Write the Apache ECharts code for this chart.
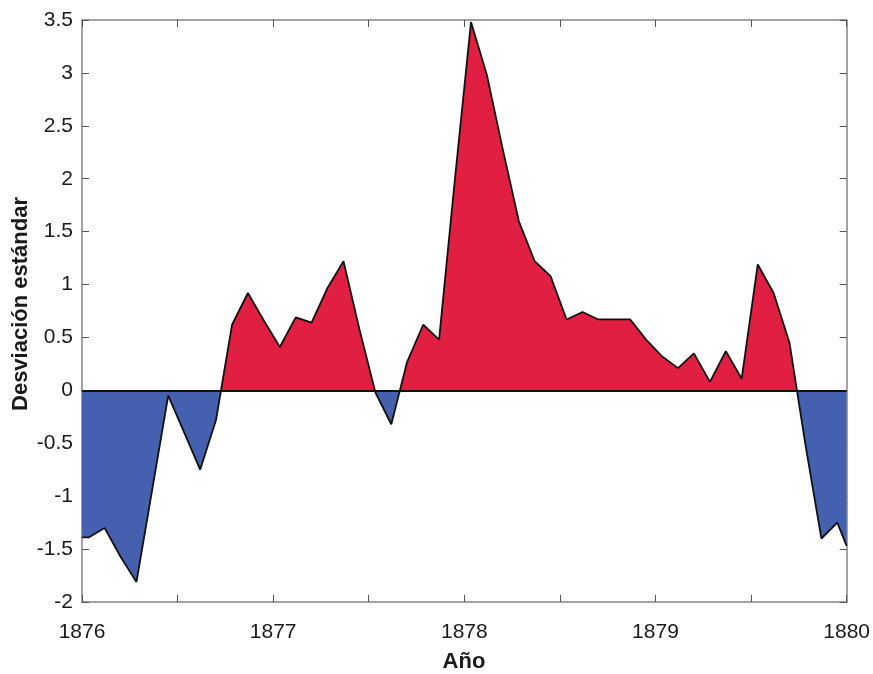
<!DOCTYPE html>
<html>
<head>
<meta charset="utf-8">
<script src="https://cdn.jsdelivr.net/npm/echarts@6/dist/echarts.min.js"></script>
<style>
  html, body { margin: 0; padding: 0; background: #ffffff; }
  #chart { width: 873px; height: 674px; }
</style>
</head>
<body>
<div id="chart"></div>
<script>
// Decimal years of each sample
const years = [
  1876.000,
  1876.035, 1876.118, 1876.201, 1876.285, 1876.368, 1876.451, 1876.535, 1876.618, 1876.701, 1876.785, 1876.868, 1876.951,
  1877.035, 1877.118, 1877.201, 1877.285, 1877.368, 1877.451, 1877.535, 1877.618, 1877.701, 1877.785, 1877.868, 1877.951,
  1878.035, 1878.118, 1878.201, 1878.285, 1878.368, 1878.451, 1878.535, 1878.618, 1878.701, 1878.785, 1878.868, 1878.951,
  1879.035, 1879.118, 1879.201, 1879.285, 1879.368, 1879.451, 1879.535, 1879.618, 1879.701, 1879.785, 1879.868, 1879.951,
  1880.000
];
// Standard deviation values
const desviacion = [
  -1.39,
  -1.39, -1.30, -1.57, -1.81, -0.93, -0.05, -0.40, -0.75, -0.28, 0.62, 0.92, 0.66,
  0.41, 0.69, 0.64, 0.97, 1.22, 0.58, -0.02, -0.32, 0.27, 0.62, 0.48, 2.00,
  3.48, 2.98, 2.28, 1.60, 1.22, 1.08, 0.67, 0.74, 0.67, 0.67, 0.67, 0.48,
  0.32, 0.21, 0.35, 0.08, 0.37, 0.11, 1.19, 0.92, 0.45, -0.52, -1.40, -1.25,
  -1.47
];
const xTickLabels = ['1876', '1877', '1878', '1879', '1880'];
const yTickLabels = ['-2', '-1.5', '-1', '-0.5', '0', '0.5', '1', '1.5', '2', '2.5', '3', '3.5'];
const xTitle = 'Año';
const yTitle = 'Desviación estándar';

const FONT = '"Liberation Sans", Arial, sans-serif';
const AXIS_GRAY = '#858585';
const TEXT = '#1a1a1a';
const RED = '#E01F42';
const BLUE = '#4560AE';

const seriesData = years.map((y, i) => [y, desviacion[i]]);

const xMin = Number(xTickLabels[0]);
const xMax = Number(xTickLabels[xTickLabels.length - 1]);
const yMin = Number(yTickLabels[0]);
const yMax = Number(yTickLabels[yTickLabels.length - 1]);

const chart = echarts.init(document.getElementById('chart'), null, { renderer: 'canvas' });

const tickStyle = { show: true, inside: true, length: 7, lineStyle: { color: '#555', width: 1 } };
const lineStyleAxis = { show: true, onZero: false, lineStyle: { color: AXIS_GRAY, width: 1.5 } };

const option = {
  backgroundColor: '#ffffff',
  animation: false,
  grid: { left: 82, right: 26, top: 20, bottom: 72, containLabel: false },
  xAxis: [
    {
      type: 'value', position: 'bottom', min: xMin, max: xMax, interval: 0.5,
      axisLine: lineStyleAxis, axisTick: tickStyle, splitLine: { show: false },
      axisLabel: {
        show: true, margin: 20, color: TEXT, fontFamily: FONT, fontSize: 21,
        showMinLabel: true, showMaxLabel: true,
        formatter: v => (xTickLabels.indexOf(String(v)) >= 0 ? String(v) : '')
      }
    },
    {
      type: 'value', position: 'top', min: xMin, max: xMax, interval: 0.5,
      axisLine: lineStyleAxis, axisTick: tickStyle, splitLine: { show: false },
      axisLabel: { show: false }
    }
  ],
  yAxis: [
    {
      type: 'value', position: 'left', min: yMin, max: yMax, interval: 0.5,
      axisLine: lineStyleAxis, axisTick: tickStyle, splitLine: { show: false },
      axisLabel: {
        show: true, margin: 9, color: TEXT, fontFamily: FONT, fontSize: 21,
        showMinLabel: true, showMaxLabel: true,
        formatter: v => { const s = String(Math.round(v * 10) / 10); return yTickLabels.indexOf(s) >= 0 ? s : ''; }
      }
    },
    {
      type: 'value', position: 'right', min: yMin, max: yMax, interval: 0.5,
      axisLine: lineStyleAxis, axisTick: tickStyle, splitLine: { show: false },
      axisLabel: { show: false }
    }
  ],
  visualMap: {
    type: 'piecewise', show: false, dimension: 1, seriesIndex: 0,
    pieces: [
      { gte: -100, lt: 0, color: BLUE },
      { gte: 0, lte: 100, color: RED }
    ]
  },
  series: [
    {
      type: 'line',
      xAxisIndex: 0, yAxisIndex: 0,
      data: seriesData,
      showSymbol: false,
      symbol: 'none',
      lineStyle: { color: '#111', width: 1.8 },
      areaStyle: { opacity: 1, origin: 'auto' },
      z: 2,
      markLine: {
        silent: true, symbol: 'none', animation: false,
        label: { show: false },
        lineStyle: { color: '#111', width: 2, type: 'solid' },
        data: [{ yAxis: 0 }]
      }
    }
  ],
  graphic: [
    {
      type: 'text', x: 21, y: 304, rotation: Math.PI / 2,
      style: {
        text: yTitle, fill: TEXT, font: 'bold 22px ' + FONT,
        textAlign: 'center', textVerticalAlign: 'middle'
      }
    },
    {
      type: 'text', x: 464, y: 662,
      style: {
        text: xTitle, fill: TEXT, font: 'bold 22px ' + FONT,
        textAlign: 'center', textVerticalAlign: 'middle'
      }
    }
  ]
};

chart.setOption(option);
</script>
</body>
</html>
